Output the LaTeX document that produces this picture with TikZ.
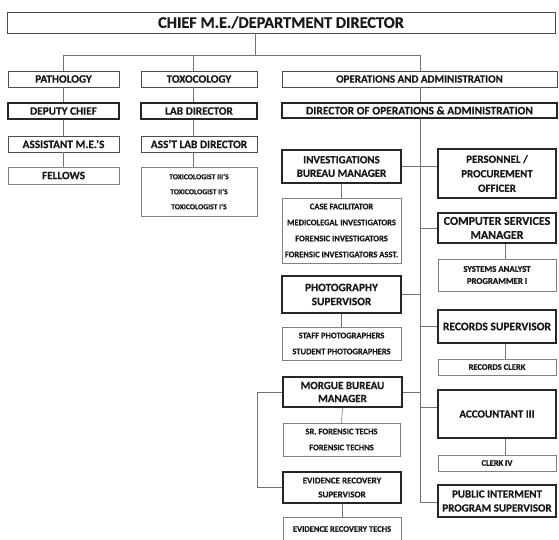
\documentclass[tikz,border=0pt]{standalone}
\usepackage{fontspec}
\setmainfont{Carlito}[BoldFeatures={FakeBold=0.4}]
\newcommand{\fs}[2]{\fontsize{#1}{#2}\selectfont\bfseries}
\tikzset{
 x=1pt,y=-1pt,
 base/.style={draw, rectangle, inner sep=0pt, align=center, text=black!90, font=\fs{11.3}{13}},
 bigbox/.style={base, line width=1.2pt, draw=black!85},
 midbox/.style={base, line width=0.8pt, draw=black!70},
 subbox/.style={base, line width=0.6pt, draw=black!50},
 small/.style={font=\fs{8.5}{16}},
 conn/.style={line width=0.6pt, draw=black!55},
}
\newcommand{\bx}[7]{\node[#6, minimum width={(#4-#2)*1pt}, minimum height={(#5-#3)*1pt}] (#1) at ({(#2+#4)/2},{(#3+#5)/2}) {#7};}
\begin{document}
\begin{tikzpicture}
\fill[white] (0,0) rectangle (559,539);
\useasboundingbox (0,0) rectangle (559,539);
% top
\bx{top}{7}{12}{555}{33}{midbox,font=\fs{16.3}{18}}{CHIEF M.E./DEPARTMENT DIRECTOR}
% pathology column
\bx{path}{8}{71}{119}{87}{midbox}{PATHOLOGY}
\bx{dep}{8}{103}{119}{119}{bigbox}{DEPUTY CHIEF}
\bx{asst}{8}{136}{119}{152}{midbox}{ASSISTANT M.E.'S}
\bx{fell}{8}{167}{119}{184}{subbox}{FELLOWS}
% toxicology column
\bx{tox}{141}{71}{257}{87}{midbox}{TOXOCOLOGY}
\bx{lab}{141}{103}{257}{119}{bigbox}{LAB DIRECTOR}
\bx{alab}{141}{136}{257}{152}{midbox}{ASS'T LAB DIRECTOR}
\bx{toxi}{141}{167}{257}{216}{subbox,font=\fs{7.6}{15}}{TOXICOLOGIST III'S\\TOXICOLOGIST II'S\\TOXICOLOGIST I'S}
% operations
\bx{ops}{282}{71}{557}{87}{midbox,font=\fs{11}{13}}{OPERATIONS AND ADMINISTRATION}
\bx{dir}{282}{103}{557}{118}{bigbox,font=\fs{11.5}{13}}{DIRECTOR OF OPERATIONS \& ADMINISTRATION}
% middle column
\bx{inv}{282}{150}{401}{183}{bigbox,font=\fs{11}{13.5}}{INVESTIGATIONS\\BUREAU MANAGER}
\bx{invl}{282}{198}{401}{263}{subbox,small}{CASE FACILITATOR\\MEDICOLEGAL INVESTIGATORS\\FORENSIC INVESTIGATORS\\FORENSIC INVESTIGATORS ASST.}
\bx{photo}{282}{276}{401}{313}{bigbox,font=\fs{11.3}{14}}{PHOTOGRAPHY\\SUPERVISOR}
\bx{staff}{282}{327}{401}{360}{subbox,small}{STAFF PHOTOGRAPHERS\\STUDENT PHOTOGRAPHERS}
\bx{morg}{283}{377}{402}{407}{bigbox,font=\fs{11}{13}}{MORGUE BUREAU\\MANAGER}
\bx{sr}{283}{423}{400}{456}{subbox,small}{SR. FORENSIC TECHS\\FORENSIC TECHNS}
\bx{evs}{283}{472}{401}{503}{bigbox,font=\fs{9}{14}}{EVIDENCE RECOVERY\\SUPERVISOR}
\bx{evt}{283}{517}{401}{541}{subbox,small}{EVIDENCE RECOVERY TECHS}
% right column
\bx{pers}{438}{149}{556}{198}{bigbox,font=\fs{11}{14.5}}{PERSONNEL /\\PROCUREMENT\\OFFICER}
\bx{comp}{438}{213}{556}{243}{bigbox,font=\fs{12}{14}}{COMPUTER SERVICES\\MANAGER}
\bx{sys}{438}{259}{556}{291}{subbox,font=\fs{8.8}{12}}{SYSTEMS ANALYST\\PROGRAMMER I}
\bx{recs}{438}{310}{556}{343}{bigbox,font=\fs{11.5}{14}}{RECORDS SUPERVISOR}
\bx{rclk}{438}{359}{556}{375}{subbox,small}{RECORDS CLERK}
\bx{acct}{438}{390}{556}{438}{bigbox,font=\fs{11}{14}}{ACCOUNTANT III}
\bx{clk4}{438}{455}{556}{471}{subbox,small}{CLERK IV}
\bx{pub}{438}{485}{556}{517}{bigbox,font=\fs{11}{14}}{PUBLIC INTERMENT\\PROGRAM SUPERVISOR}
% junctions
\coordinate (hT) at (255,55);
\coordinate (hL) at (63,55);
\coordinate (hM) at (193,55);
\coordinate (hR) at (420,55);
\coordinate (spb) at (420,502);
\coordinate (rx) at (505,0);
\coordinate (lx) at (257,0);
% connectors
\draw[conn] (top.south -| hT) -- (hT);
\draw[conn] (hL) -- (hR);
\draw[conn] (hL) -- (path.north -| hL);
\draw[conn] (path.south -| hL) -- (dep.north -| hL);
\draw[conn] (dep.south -| hL) -- (asst.north -| hL);
\draw[conn] (asst.south -| hL) -- (fell.north -| hL);
\draw[conn] (hM) -- (tox.north -| hM);
\draw[conn] (tox.south -| hM) -- (lab.north -| hM);
\draw[conn] (lab.south -| hM) -- (alab.north -| hM);
\draw[conn] (alab.south -| hM) -- (toxi.north -| hM);
\draw[conn] (hR) -- (ops.north -| hR);
\draw[conn] (ops.south -| hR) -- (dir.north -| hR);
\draw[conn] (dir.south -| hR) -- (spb) -- (spb -| pub.west);
\draw[conn] (inv.east) -- (inv.east -| pers.west);
\draw[conn] (photo.east) -- (photo.east -| hR);
\draw[conn] (morg.east) -- (morg.east -| hR);
\draw[conn] (comp.west) -- (comp.west -| hR);
\draw[conn] (recs.west) -- (recs.west -| hR);
\draw[conn] ([yshift=7pt]acct.west) -- ([yshift=7pt]acct.west -| hR);
\draw[conn] (inv.south) -- (invl.north);
\draw[conn] (photo.south) -- (staff.north);
\draw[conn] (morg.south) -- (sr.north);
\draw[conn] (evs.south) -- (evt.north);
\draw[conn] (comp.south -| rx) -- (sys.north -| rx);
\draw[conn] (recs.south -| rx) -- (rclk.north -| rx);
\draw[conn] (acct.south -| rx) -- (clk4.north -| rx);
\draw[conn] (morg.west) -- (morg.west -| lx) |- (evs.west);
\end{tikzpicture}
\end{document}
